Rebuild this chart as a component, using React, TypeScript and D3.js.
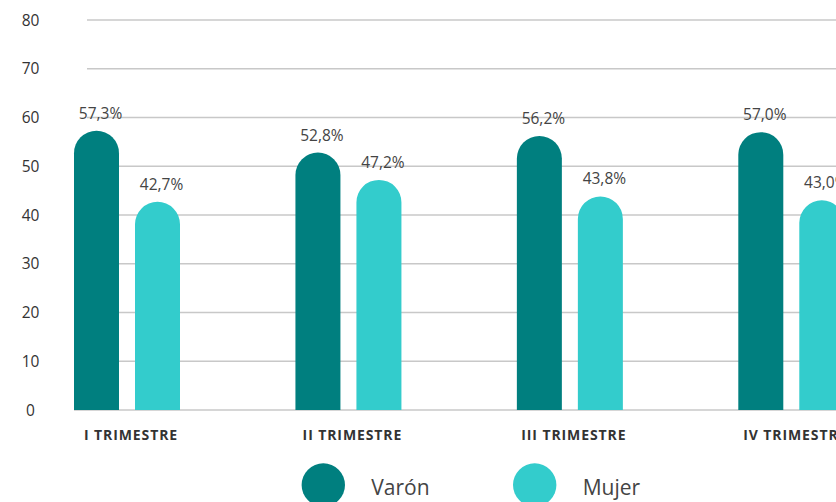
import * as d3 from 'd3'

const WIDTH = 836
const HEIGHT = 502

const trimestres = ['I TRIMESTRE', 'II TRIMESTRE', 'III TRIMESTRE', 'IV TRIMESTRE']
const series = ['Varón', 'Mujer']
const varon = [57.3, 52.8, 56.2, 57.0]
const mujer = [42.7, 47.2, 43.8, 43.0]
const varonLabels = ['57,3%', '52,8%', '56,2%', '57,0%']
const mujerLabels = ['42,7%', '47,2%', '43,8%', '43,0%']
const yTicks = [0, 10, 20, 30, 40, 50, 60, 70, 80]

const COLORS: Record<string, string> = { 'Varón': '#007f7f', Mujer: '#33cccc' }
const FONT = "'Open Sans', 'Noto Sans', sans-serif"

const y = d3.scaleLinear([0, 80], [410, 20])
const x0 = d3.scaleBand(trimestres, [74, 844.3]).paddingInner(0.5213).paddingOuter(0)
const x1 = d3.scaleBand(series, [0, x0.bandwidth()]).paddingInner(16 / 61).paddingOuter(0)

// bar with a fully rounded top
const pillPath = (x: number, w: number, top: number, bottom: number) => {
  const r = w / 2
  const p = d3.path()
  p.moveTo(x, bottom)
  p.lineTo(x, top + r)
  p.arc(x + r, top + r, r, Math.PI, 0)
  p.lineTo(x + w, bottom)
  p.closePath()
  return p.toString()
}

export default function App() {
  const rows = trimestres.map((t, i) => ({
    t,
    bars: [
      { s: 'Varón', v: varon[i], label: varonLabels[i] },
      { s: 'Mujer', v: mujer[i], label: mujerLabels[i] },
    ],
  }))

  return (
    <svg
      width={WIDTH}
      height={HEIGHT}
      style={{ position: 'absolute', left: 0, top: 0, background: '#fff' }}
      fontFamily={FONT}
    >
      {yTicks.map((t) => (
        <g key={t}>
          {t > 0 && (
            <line x1={87} x2={WIDTH} y1={y(t)} y2={y(t)} stroke="#c8c8c8" strokeWidth={1.5} />
          )}
          <text x={30.5} y={y(t)} dy="0.36em" textAnchor="middle" fontSize={15.5} fill="#333">
            {t}
          </text>
        </g>
      ))}
      <line x1={74} x2={WIDTH} y1={y(0)} y2={y(0)} stroke="#c8c8c8" strokeWidth={1.5} />

      {rows.map((row) => (
        <g key={row.t} transform={`translate(${x0(row.t)},0)`}>
          {row.bars.map((b) => {
            const bx = x1(b.s)!
            const w = x1.bandwidth()
            return (
              <g key={b.s}>
                <path d={pillPath(bx, w, y(b.v), y(0))} fill={COLORS[b.s]} />
                <text
                  x={bx + w / 2 + 4}
                  y={y(b.v) - 12}
                  textAnchor="middle"
                  fontSize={15.5}
                  fill="#444"
                >
                  {b.label}
                </text>
              </g>
            )
          })}
          <text
            x={x0.bandwidth() / 2 + 4}
            y={440}
            textAnchor="middle"
            fontSize={14}
            fontWeight="bold"
            letterSpacing={0.9}
            fill="#333"
          >
            {row.t}
          </text>
        </g>
      ))}

      {series.map((s, i) => (
        <g key={s} transform={`translate(${[323.3, 534.7][i]},485)`}>
          <circle r={21.7} fill={COLORS[s]} />
          <text x={48} y={10} fontSize={21} fill="#444">
            {s}
          </text>
        </g>
      ))}
    </svg>
  )
}
